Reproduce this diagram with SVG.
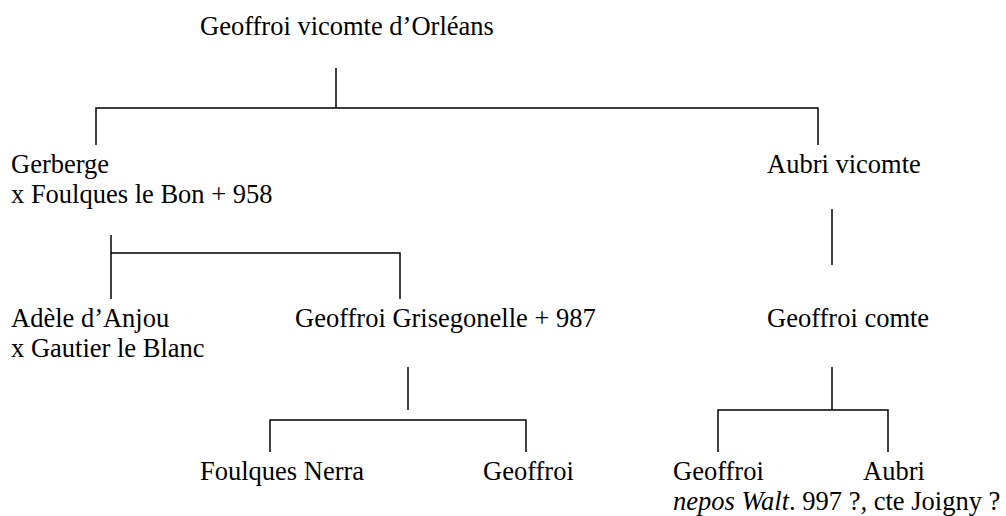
<svg xmlns="http://www.w3.org/2000/svg" width="1006" height="516" viewBox="0 0 1006 516">
<style>
text{font-family:"Liberation Serif","Times New Roman",serif;font-size:26.5px;fill:#000}
.c{stroke:#000;stroke-width:1.5;fill:none}
</style>
<rect width="1006" height="516" fill="#fff"/>
<g id="connectors" class="c">
<path d="M336 68V108M96 145V108H818V145"/>
<path d="M832 209V265"/>
<path d="M111 235V299M111 253H400V299"/>
<path d="M408 367V410M270 452V420H526V452"/>
<path d="M832 367V410M718 452V410H888V452"/>
</g>
<g id="n-geoffroi-vicomte"><text x="200" y="35">Geoffroi vicomte d’Orléans</text></g>
<g id="n-gerberge"><text x="11" y="173">Gerberge</text><text x="11" y="203">x Foulques le Bon + 958</text></g>
<g id="n-aubri-vicomte"><text x="767" y="173">Aubri vicomte</text></g>
<g id="n-adele"><text x="11" y="327">Adèle d’Anjou</text><text x="11" y="357">x Gautier le Blanc</text></g>
<g id="n-grisegonelle"><text x="295" y="327">Geoffroi Grisegonelle + 987</text></g>
<g id="n-geoffroi-comte"><text x="767" y="327">Geoffroi comte</text></g>
<g id="n-foulques-nerra"><text x="200" y="480">Foulques Nerra</text></g>
<g id="n-geoffroi-1"><text x="483" y="480">Geoffroi</text></g>
<g id="n-geoffroi-2"><text x="673" y="480">Geoffroi</text><text x="673" y="510"><tspan font-style="italic">nepos Walt</tspan>. 997 ?, cte Joigny ?</text></g>
<g id="n-aubri"><text x="863" y="480">Aubri</text></g>
</svg>
